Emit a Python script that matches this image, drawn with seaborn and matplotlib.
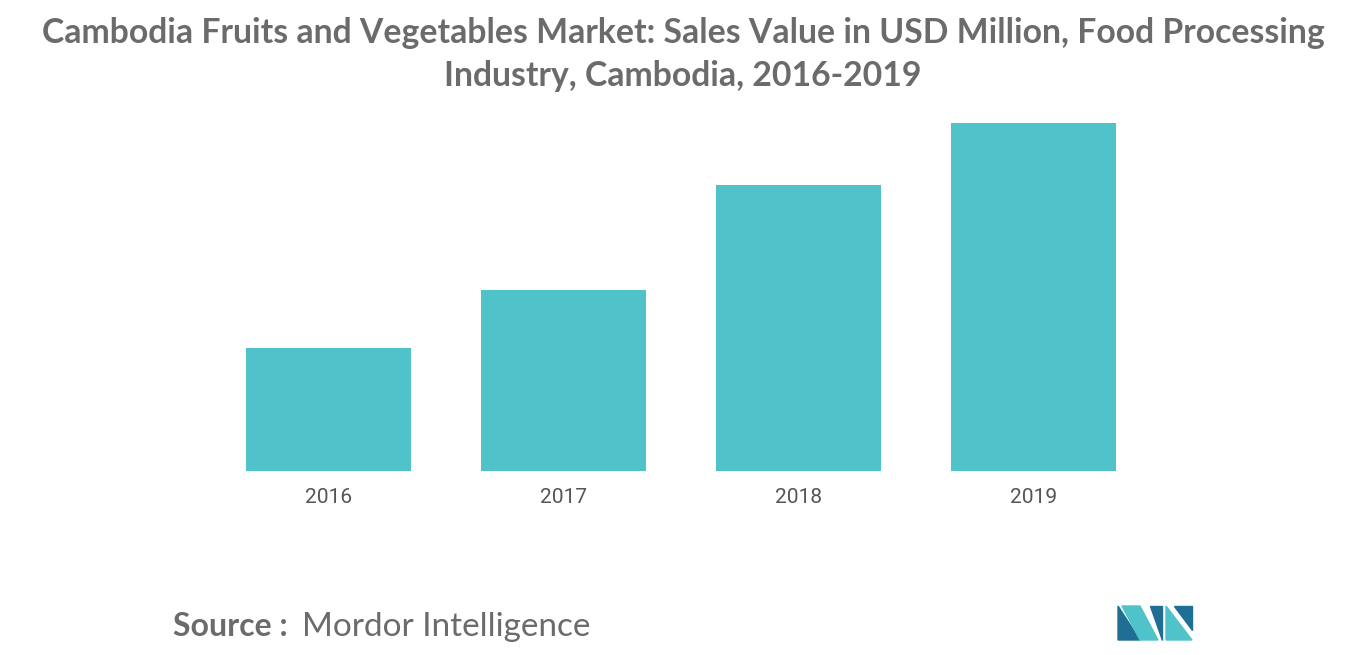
import matplotlib
matplotlib.use("Agg")
import matplotlib.pyplot as plt
import seaborn as sns
import pandas as pd
from matplotlib.patches import Polygon

# --- Data (relative bar heights) ---
years = ["2016", "2017", "2018", "2019"]
sales = [123, 181, 286, 348]

BAR_COLOR = "#4fc3c9"
TEXT_GRAY = "#6b6b6b"

df = pd.DataFrame({"year": years, "sales": sales})

fig = plt.figure(figsize=(13.66, 6.55), dpi=100)
ax = fig.add_axes([211 / 1366, 184 / 655, 940 / 1366, 348 / 655])
sns.barplot(data=df, x="year", y="sales", color=BAR_COLOR, width=0.70,
            saturation=1, ax=ax)
ax.set_xlim(-0.5, 3.5)
ax.set_ylim(0, 348)
ax.set_xlabel("")
ax.set_ylabel("")
ax.set_yticks([])
for s in ax.spines.values():
    s.set_visible(False)
ax.tick_params(axis="x", length=0, pad=12, labelsize=15, labelcolor="#555555")
for lbl in ax.get_xticklabels():
    lbl.set_fontfamily("Roboto")

fig.text(0.5, 1 - 33 / 655,
         "Cambodia Fruits and Vegetables Market: Sales Value in USD Million, Food Processing",
         ha="center", va="center", fontsize=24.3, fontweight="bold",
         color=TEXT_GRAY, fontfamily="Lato")
fig.text(0.5, 1 - 76 / 655, "Industry, Cambodia, 2016-2019",
         ha="center", va="center", fontsize=24.3, fontweight="bold",
         color=TEXT_GRAY, fontfamily="Lato")

fig.text(173 / 1366, 1 - 627 / 655, "Source :", ha="left", va="center",
         fontsize=23, fontweight="bold", color=TEXT_GRAY, fontfamily="Lato")
fig.text(302 / 1366, 1 - 627 / 655, "Mordor Intelligence", ha="left", va="center",
         fontsize=24, color=TEXT_GRAY, fontfamily="Lato")

# simple logo
def px(x, y):
    return (x / 1366, 1 - y / 655)

logo = [
    ([(1118, 640), (1118, 606), (1140, 640)], "#1f6f94"),
    ([(1122, 606), (1140, 606), (1158, 640), (1140, 640)], BAR_COLOR),
    ([(1150, 606), (1162, 606), (1162, 640)], "#1f6f94"),
    ([(1166, 606), (1192, 640), (1166, 640)], BAR_COLOR),
    ([(1174, 606), (1192, 606), (1192, 630)], "#1f6f94"),
]
for pts, col in logo:
    fig.patches.append(Polygon([px(*p) for p in pts], closed=True,
                               transform=fig.transFigure, color=col))

fig.savefig("out.png", dpi=100)
